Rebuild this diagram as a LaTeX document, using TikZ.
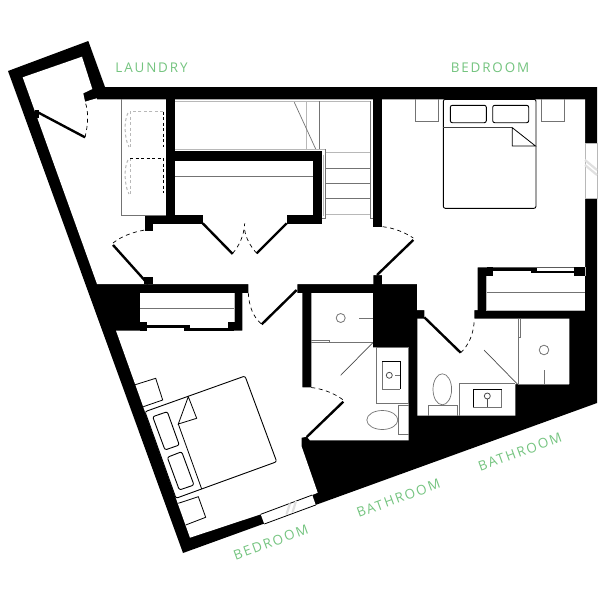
\documentclass[tikz,border=0pt]{standalone}
\usepackage{fontspec}
\newfontfamily\labfont[LetterSpace=14]{Open Sans}
\definecolor{labgreen}{HTML}{74C47F}
\tikzset{
  lab/.style={text=labgreen,font=\labfont\fontsize{13.4}{15}\selectfont,inner sep=0pt},
  wall/.style={fill=black,draw=none},
  room/.style={fill=white,draw=none},
  thin line/.style={draw=black,line width=0.8pt},
  leaf/.style={draw=black,line width=2.4pt},
  swing/.style={draw=black,line width=0.7pt,dash pattern=on 4pt off 3.5pt},
  mid/.style={draw=black!55,line width=0.9pt},
  pale/.style={draw=black!28,line width=1pt},
  bedline/.style={draw=black,line width=0.9pt,rounded corners=2pt},
  hatch/.style={draw=black!12,line width=2.2pt}
}
\begin{document}
\begin{tikzpicture}[x=1pt,y=-1pt]
\useasboundingbox (0,0) rectangle (605,605);
\fill[white] (0,0) rectangle (605,605);
% outer mass
\path[wall] (8,71) -- (88.3,41) -- (105,87) -- (597,87) -- (597,403) -- (183,553) -- cycle;
% interior
\path[room] (22.7,77.3) -- (82,56.7) -- (92.3,89) -- (83.3,93.3) -- (85,101.7) -- (96.7,98.3) -- (97,99.3)
  -- (585,99.3) -- (585,267.3) -- (477.7,267.3) -- (477.7,310) -- (474.3,310) -- (474.3,318.7)
  -- (569.3,318.7) -- (569.3,384) -- (515.3,384) -- (515.3,415.7) -- (417.3,415.7) -- (417.3,318.7)
  -- (424.3,318.7) -- (424.3,310) -- (417,310) -- (417,284) -- (382,284) -- (382,275) -- (373.3,275)
  -- (373.3,284) -- (297.3,284) -- (297.3,293) -- (302.3,293) -- (302.3,387.3) -- (311.3,387.3)
  -- (311.3,293) -- (372.8,293) -- (372.8,347.3) -- (408.5,347.3) -- (408.5,440.3) -- (310,440.3)
  -- (306.7,436.7) -- (301.7,437.7) -- (301.7,446.7) -- (317.7,492.7) -- (312.3,495) -- (260.7,514.3)
  -- (190,537.7) -- (116,330.7) -- (242.3,330.7) -- (242.3,293) -- (248.3,293) -- (248.3,284)
  -- (97,284) -- cycle;
% right closet
\path[room] (486.7,276) rectangle (585,310);
\path[room] (493,268) rectangle (574.3,276);
\path[wall] (486.7,267.3) rectangle (493.3,276);
\path[wall] (574.3,267.3) rectangle (585,276);
\path[wall] (493.3,268.3) rectangle (536.7,270.7);
\path[wall] (530.7,270.7) rectangle (574.3,273);
\draw[mid] (486.7,292) -- (585,292);
\draw[pale] (486.7,276) -- (486.7,310) -- (585,310) (585,276) -- (585,267);
% windows
\path[room] (585,143.3) rectangle (597,198.3);
\draw[pale] (585,143.3) rectangle (597,198.3);
\draw[hatch] (585,160) -- (597,170) (585,165) -- (597,175);
\path[room] (260.7,514.3) -- (312.3,495) -- (315.7,505) -- (264.3,524) -- cycle;
\draw[thin line] (260.7,514.3) -- (312.3,495) (264.3,524) -- (315.7,505);
\draw[hatch] (290,503.5) -- (286.5,514.5) (296,501) -- (292.5,512.5);
% walls on white
\path[wall] (166,99) rectangle (175,215);
\path[wall] (145,215) rectangle (202.7,223.5);
\path[wall] (145,223.5) rectangle (153,231);
\path[wall] (175,150.7) rectangle (321.7,160.7);
\path[wall] (312.7,160.7) rectangle (321.7,224);
\path[wall] (286.7,215) rectangle (312.7,224);
\path[wall] (373.3,99) rectangle (382,226.7);
\path[wall] (144,277) rectangle (153.3,284);
\path[wall] (35,110) rectangle (39,118);
% laundry
\draw[mid] (121.7,99) -- (121.7,215) -- (166,215);
\draw[pale,dashed,dash pattern=on 3pt off 2.5pt] (163.3,111.7) -- (130,111.7) -- (130,148);
\draw[pale,dash pattern=on 3pt off 2.5pt] (130,158.3) -- (130,195);
\draw[draw=black,line width=0.8pt,dash pattern=on 3pt off 2.5pt] (163.3,111.7) -- (163.3,146.7);
\draw[draw=black,line width=0.8pt,dash pattern=on 3pt off 2.5pt] (130,158.3) -- (163.3,158.3) -- (163.3,193.3);
\draw[pale,dash pattern=on 3pt off 2.5pt] (128,113) .. controls (124,120) and (124,138) .. (129,147);
\draw[pale,dash pattern=on 3pt off 2.5pt] (128,160) .. controls (124,167) and (124,185) .. (129,194);
% stair
\draw[pale] (175,101.7) -- (371,101.7);
\draw[pale] (175,149.3) -- (325.7,149.3);
\draw[pale] (306,101) -- (306,149);
\draw[mid,line width=0.7pt] (319.3,101) -- (319.3,149);
\draw[mid,line width=0.7pt] (294.3,102.3) -- (315.7,149);
\draw[mid,line width=0.7pt] (325.7,149) -- (325.7,218) -- (321.7,218);
\draw[pale] (323.5,155) -- (323.5,216);
\draw[pale] (325.7,152.7) -- (370.7,152.7);
\draw[mid] (325.7,168.3) -- (370.7,168.3) (325.7,183.3) -- (370.7,183.3) (325.7,198.3) -- (370.7,198.3);
\draw[pale] (325.7,214) -- (370.7,214);
\draw[mid,line width=0.7pt] (370.7,101) -- (370.7,218) -- (373.3,218);
\draw[mid] (175,176.7) -- (312.7,176.7);
% doors
\draw[leaf] (36.7,111.7) -- (85,137.3);
\draw[swing] (85,137.3) .. controls (88,125) and (89,112) .. (85,101.7);
\draw[leaf] (148,284) -- (113,245);
\draw[swing] (113,243) .. controls (122,236) and (133,232) .. (145,230);
\draw[leaf] (202.7,223.3) -- (232.7,254);
\draw[leaf] (286.7,223.3) -- (256.7,253.3);
\draw[swing] (232.7,253.3) .. controls (239,246) and (244,236) .. (244.7,223.3);
\draw[swing] (256.7,253.3) .. controls (250,246) and (245.5,237) .. (244.7,230);
\draw[leaf] (377,275) -- (413.3,240);
\draw[swing] (382.7,226.7) .. controls (394,228) and (404,232) .. (413.3,238);
\draw[leaf] (296.7,290) -- (261.7,324.3);
\draw[swing] (248.3,293) .. controls (249,306) and (253,317) .. (261.7,324.3);
\draw[leaf] (306.7,437) -- (343.3,401.7);
\draw[swing] (311.3,387.5) .. controls (323,389) and (334,393) .. (343.3,400);
\draw[leaf] (424.3,317.3) -- (460.7,352.7);
\draw[swing] (460.7,352.7) .. controls (469,345) and (474,333) .. (474.3,319);
% left closet
\path[room] (140,293) rectangle (234,322);
\path[room] (147,322) rectangle (228,325);
\path[wall] (147,325) -- (190,325) -- (190,327.7) -- (147,327.7) -- cycle;
\path[wall] (184,328) rectangle (228,330.7);
\path[room] (147,327.7) rectangle (184,330.7);
\path[room] (190,325) rectangle (228,328);
\path[wall] (190,328) rectangle (228,330.7);
\path[wall] (228,322) rectangle (234,331);
\path[wall] (140,322) rectangle (147,331);
\draw[mid] (140,308.5) -- (234,308.5);
\draw[pale,line width=0.8pt] (234,293) -- (234,322);
% bath 2
\draw[mid] (311.3,342.5) -- (372.8,342.5);
\draw[mid,line width=0.7pt] (311.3,340) -- (329,340) -- (329,342.5);
\draw[mid,line width=0.8pt] (340.7,318) circle[radius=4.5pt];
\draw[mid] (359,318) -- (372.8,318);
\draw[black!70,line width=0.7pt] (372.8,342.7) -- (340.7,375.3);
\draw[mid] (376.7,347.3) rectangle (408.5,403.3);
\draw[mid] (382.3,361.3) -- (382.3,389.3) -- (400.3,389.3);
\draw[black,line width=0.8pt] (382.3,361.3) -- (400.3,361.3) -- (400.3,389.3);
\draw[black!70,line width=0.8pt] (389.3,375.3) circle[radius=3pt];
\draw[mid,line width=0.7pt] (395,375.3) -- (400.3,375.3);
\draw[mid,line width=0.7pt] (382.3,420) ellipse[x radius=15.5pt,y radius=9.5pt];
\draw[mid] (408.5,405.3) -- (398,405.3) -- (398,434.3) -- (408.5,434.3);
% bath 1
\draw[mid] (518.7,318.7) -- (518.7,384) -- (569.3,384);
\draw[mid,line width=0.7pt] (520.7,318.7) -- (520.7,337.3) -- (518.7,337.3);
\draw[mid,line width=0.8pt] (544,350) circle[radius=4.8pt];
\draw[mid] (544,370) -- (544,384);
\draw[black!70,line width=0.7pt] (484,350) -- (517.3,384);
\draw[mid] (459.3,415.7) -- (459.3,383.5) -- (515.3,383.5);
\draw[mid] (501.7,389) -- (501.7,407.3) -- (473.3,407.3);
\draw[black,line width=0.8pt] (473.3,407.3) -- (473.3,389) -- (501.7,389);
\draw[black!70,line width=0.8pt] (487.3,396) circle[radius=3pt];
\draw[black!70,line width=0.7pt] (487.3,399) -- (487.3,407.3);
\draw[mid,line width=0.7pt] (442.3,389.3) ellipse[x radius=9.3pt,y radius=15.5pt];
\draw[mid] (428.3,415.7) -- (428.3,405) -- (457.3,405) -- (457.3,415.7);
% upper bed
\draw[mid] (415.3,99.3) -- (415.3,121.7) -- (438.7,121.7) -- (438.7,99.3);
\draw[mid] (541,99.3) -- (541,121.7) -- (564,121.7) -- (564,99.3);
\draw[bedline] (443.3,99.3) rectangle (536,208.3);
\draw[bedline] (450.3,105.3) rectangle (486.3,122.7);
\draw[bedline] (492.7,105.3) rectangle (528.7,122.7);
\draw[black!75,line width=0.9pt] (443.3,127.7) -- (512.3,127.7);
\draw[thin line] (512.3,127.7) -- (535.5,146) -- (512.3,146) -- cycle;
% lower bed
\draw[thin line] (134.3,385) -- (155.7,378.3) -- (162.7,400) -- (143.3,406.7);
\draw[thin line] (178.3,503.3) -- (198.3,496.7) -- (205.7,517.3) -- (185.7,525);
\draw[bedline] (145,411.7) -- (245,376) -- (276.7,461.7) -- (176,498.3) -- cycle;
\draw[bedline] (152.7,416.7) -- (167.3,411.7) -- (179.3,445) -- (165,450) -- cycle;
\draw[bedline] (167.3,457.3) -- (181.7,451.7) -- (194,485) -- (179.3,490) -- cycle;
\draw[thin line] (178.3,424) -- (201.7,489);
\draw[thin line] (188.3,396.7) -- (196.7,418.3) -- (178.3,424) -- cycle;
% labels
\node[lab] (laundry) at (151.5,68) {LAUNDRY};
\node[lab] (bedroomtop) at (490,68) {BEDROOM};
\node[lab,rotate=20] (bedroomlow) at (270.7,542.5) {BEDROOM};
\node[lab,rotate=20] (bathone) at (398.3,498.3) {BATHROOM};
\node[lab,rotate=20] (bathtwo) at (520,452) {BATHROOM};
\end{tikzpicture}
\end{document}
